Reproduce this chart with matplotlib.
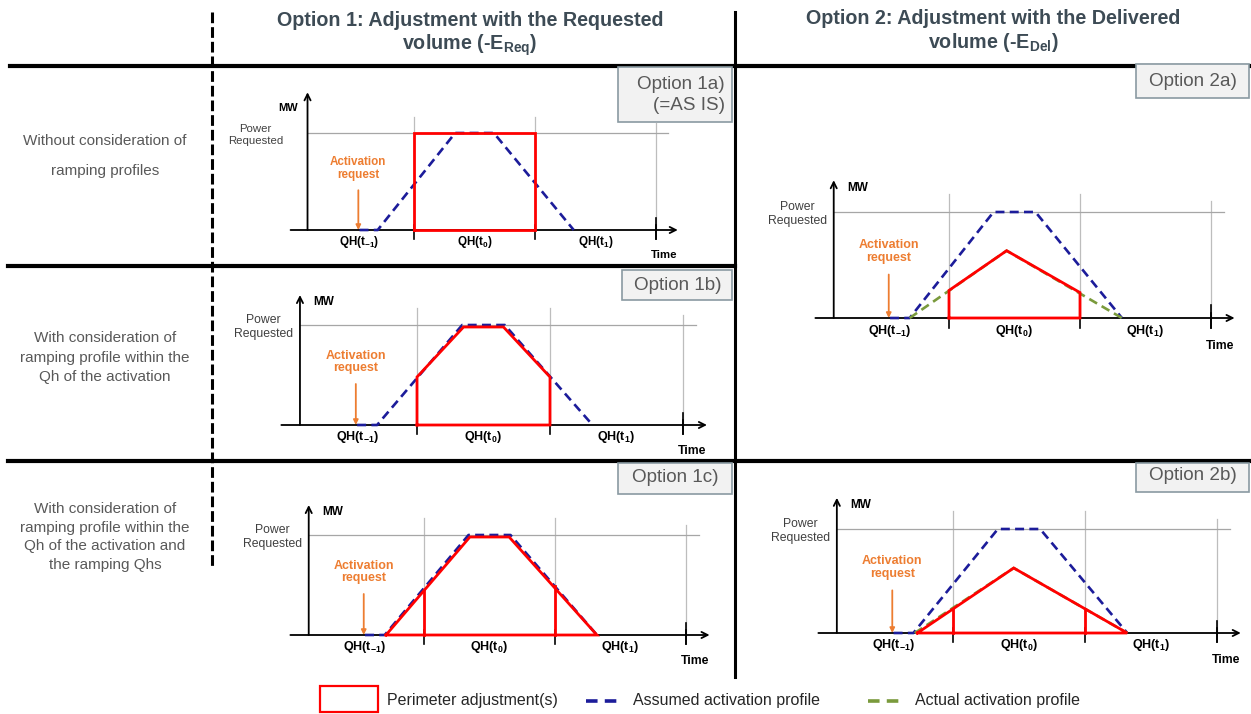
import numpy as np
import matplotlib
matplotlib.use("Agg")
import matplotlib.pyplot as plt
from matplotlib.patches import Rectangle

plt.rcParams['font.family'] = ['Liberation Sans', 'DejaVu Sans']
plt.rcParams['mathtext.fontset'] = 'custom'
plt.rcParams['mathtext.rm'] = 'Liberation Sans'
plt.rcParams['mathtext.bf'] = 'Liberation Sans:bold'
plt.rcParams['mathtext.default'] = 'bf'

# time in quarter hours: QH(t0) runs from 0 to 1, power as share of requested power
qh_bounds = [0, 1, 2]
qh_labels = ["QH($t_{-1}$)", "QH($t_0$)", "QH($t_1$)"]
qh_label_t = [-0.45, 0.5, 1.5]

# assumed activation profile (same in every panel)
assumed_t = [-0.45, -0.30, 0.34, 0.66, 1.32]
assumed_p = [0, 0, 1, 1, 0]

# actual activation profile (options 2a / 2b)
actual_2a_t = [-0.30, 0.44, 1.32]
actual_2a_p = [0, 0.635, 0]
actual_2b_t = [-0.29, 0.46, 1.32]
actual_2b_p = [0, 0.625, 0]

# perimeter adjustments: outline + vertical cuts at the QH boundaries
adj_1a_t = [0, 0, 1, 1, 0]
adj_1a_p = [0, 1, 1, 0, 0]
adj_1b_t = [0, 0, 0.35, 0.65, 1, 1, 0]
adj_1b_p = [0, 0.48, 0.98, 0.98, 0.48, 0, 0]
adj_1c_t = [-0.29, 0.35, 0.65, 1.32, -0.29]
adj_1c_p = [0, 0.98, 0.98, 0, 0]
cuts_1c_p = [0.45, 0.49]
adj_2a_t = [0, 0, 0.44, 1, 1, 0]
adj_2a_p = [0, 0.26, 0.635, 0.24, 0, 0]
adj_2b_t = [-0.27, 0.46, 1.32, -0.27]
adj_2b_p = [0, 0.625, 0, 0]
cuts_2b_p = [0.23, 0.23]

row_labels = ["Without consideration of\nramping profiles",
              "With consideration of\nramping profile within the\nQh of the activation",
              "With consideration of\nramping profile within the\nQh of the activation and\nthe ramping Qhs"]

RED = '#ff0000'
BLUE = '#1c1c9a'
GREEN = '#7a9a3c'
ORANGE = '#ed7d31'
GRID = '#bdbdbd'
TXT = '#595959'

W, H = 1251, 714
fig = plt.figure(figsize=(W / 100, H / 100), dpi=100)
bg = fig.add_axes([0, 0, 1, 1])
bg.set_xlim(0, W)
bg.set_ylim(H, 0)
bg.axis('off')

# table lines
bg.plot([10, W], [66, 66], color='black', lw=3)
bg.plot([8, 735], [266, 266], color='black', lw=3)
bg.plot([8, W], [461, 461], color='black', lw=3)
bg.plot([735, 735], [12, 677], color='black', lw=2.2)
bg.plot([212, 212], [12, 568], color='black', lw=2.2, dashes=(3.5, 1.3))

# headers
hdr = dict(ha='center', va='center', fontsize=14.2, fontweight='bold', color='#3d4b55')
bg.text(470, 21, "Option 1: Adjustment with the Requested", **hdr)
bg.text(470, 45, "volume (-$E_{Req}$)", **hdr)
bg.text(993, 19, "Option 2: Adjustment with the Delivered", **hdr)
bg.text(993, 43, "volume (-$E_{Del}$)", **hdr)

# row labels
bg.text(105, 156, row_labels[0], ha='center', va='center', fontsize=11, color=TXT, linespacing=2.5)
bg.text(105, 358, row_labels[1], ha='center', va='center', fontsize=11, color=TXT, linespacing=1.5)
bg.text(105, 537, row_labels[2], ha='center', va='center', fontsize=11, color=TXT, linespacing=1.45)

# option tags
def tag(x, y, w, h, label, tx, ty, ha='center'):
    bg.add_patch(Rectangle((x, y), w, h, facecolor='#f2f2f2', edgecolor='#8a9aa2', lw=1.2, zorder=5))
    bg.text(tx, ty, label, ha=ha, va='center', fontsize=13.6, color=TXT, zorder=6,
            multialignment='right', linespacing=1.25)

tag(618, 67, 114, 55, "Option 1a)\n(=AS IS)", 725, 95, ha='right')
tag(622, 270, 110, 30, "Option 1b)", 678, 285)
tag(618, 463, 114, 31, "Option 1c)", 675, 478)
tag(1136, 64, 113, 34, "Option 2a)", 1193, 81)
tag(1136, 463, 113, 29, "Option 2b)", 1193, 476)

# legend
bg.add_patch(Rectangle((320, 686), 58, 26, fill=False, edgecolor=RED, lw=1.6))
bg.text(387, 701, "Perimeter adjustment(s)", va='center', fontsize=11.5, color='#262626')
bg.plot([586, 620], [701, 701], color=BLUE, lw=2.6, dashes=(3.2, 2.0))
bg.text(633, 701, "Assumed activation profile", va='center', fontsize=11.5, color='#262626')
bg.plot([868, 900], [701, 701], color=GREEN, lw=2.6, dashes=(3.2, 2.0))
bg.text(915, 701, "Actual activation profile", va='center', fontsize=11.5, color='#262626')


def add_panel(x0, w, base, h):
    xmin, xmax, ymin, ymax = -1.3, 2.4, -0.4, 1.5
    left = (x0 + xmin * w) / W
    bottom = 1 - (base - ymin * h) / H
    ax = fig.add_axes([left, bottom, (xmax - xmin) * w / W, (ymax - ymin) * h / H])
    ax.set_xlim(xmin, xmax)
    ax.set_ylim(ymin, ymax)
    ax.axis('off')
    ax.patch.set_visible(False)
    return ax


def draw_frame(ax, ytop=1.3, fs=1.0, mw_left=False, pr_x=-0.93):
    ya = -0.88
    for t in qh_bounds[:2]:
        ax.plot([t, t], [0, 1.17], color=GRID, lw=0.9, zorder=1)
    ax.plot([qh_bounds[2]] * 2, [0, 1.1], color=GRID, lw=0.9, zorder=1)
    ax.plot([ya, 2.1], [1, 1], color='#a6a6a6', lw=0.9, zorder=1)
    for t in qh_bounds:
        ax.plot([t, t], [-0.09, 0.05], color='black', lw=1.2, zorder=2)
    ax.plot([qh_bounds[2]] * 2, [-0.09, 0.12], color='black', lw=1.2, zorder=2)
    arr = dict(arrowstyle='->', lw=1.3, color='black', shrinkA=0, shrinkB=0, mutation_scale=11)
    ax.annotate('', xy=(2.18, 0), xytext=(-1.02, 0), arrowprops=arr, zorder=2)
    ax.annotate('', xy=(ya, ytop), xytext=(ya, 0), arrowprops=arr, zorder=2)
    for lab, t in zip(qh_labels, qh_label_t):
        ax.text(t, -0.12, lab, ha='center', va='center', fontsize=9 * fs, fontweight='bold')
    ax.text(2.07, -0.26, "Time", ha='center', va='center', fontsize=8.8 * fs, fontweight='bold')
    if mw_left:
        ax.text(ya - 0.08, 1.26, "MW", ha='right', va='center', fontsize=8.5 * fs, fontweight='bold')
    else:
        ax.text(ya + 0.1, 1.23, "MW", ha='left', va='center', fontsize=8.5 * fs, fontweight='bold')
    ax.text(pr_x, 0.98, "Power\nRequested", ha='right', va='center', fontsize=8.8 * fs,
            color='#404040', multialignment='center', linespacing=1.15)
    ax.text(-0.46, 0.63, "Activation\nrequest", ha='center', va='center', fontsize=9 * fs,
            fontweight='bold', color=ORANGE, linespacing=1.1)
    ax.annotate('', xy=(-0.46, 0.0), xytext=(-0.46, 0.41),
                arrowprops=dict(arrowstyle='-|>', color=ORANGE, lw=1.3, mutation_scale=7,
                                shrinkA=0, shrinkB=0), zorder=3)
    ax.plot(assumed_t, assumed_p, color=BLUE, lw=1.9, dashes=(3.4, 2.0), zorder=4)


def red(ax, t, p, cuts=None):
    ax.plot(t, p, color=RED, lw=2, zorder=6, solid_joinstyle='miter')
    if cuts is not None:
        for b, c in zip(qh_bounds[:2], cuts):
            ax.plot([b, b], [0, c], color=RED, lw=2, zorder=6)


ax1a = add_panel(414, 121, 230, 97)
draw_frame(ax1a, ytop=1.42, fs=0.93, mw_left=True, pr_x=-1.08)
red(ax1a, adj_1a_t, adj_1a_p)

ax1b = add_panel(417, 133, 425, 100)
draw_frame(ax1b)
red(ax1b, adj_1b_t, adj_1b_p)

ax1c = add_panel(424, 131, 635, 100)
draw_frame(ax1c)
red(ax1c, adj_1c_t, adj_1c_p, cuts_1c_p)

ax2a = add_panel(949, 131, 318, 106)
draw_frame(ax2a)
ax2a.plot(actual_2a_t, actual_2a_p, color=GREEN, lw=1.9, dashes=(3.4, 2.0), zorder=5)
red(ax2a, adj_2a_t, adj_2a_p)

ax2b = add_panel(953, 132, 633, 104)
draw_frame(ax2b)
ax2b.plot(actual_2b_t, actual_2b_p, color=GREEN, lw=1.9, dashes=(3.4, 2.0), zorder=5)
red(ax2b, adj_2b_t, adj_2b_p, cuts_2b_p)

fig.savefig("out.png", dpi=100)
